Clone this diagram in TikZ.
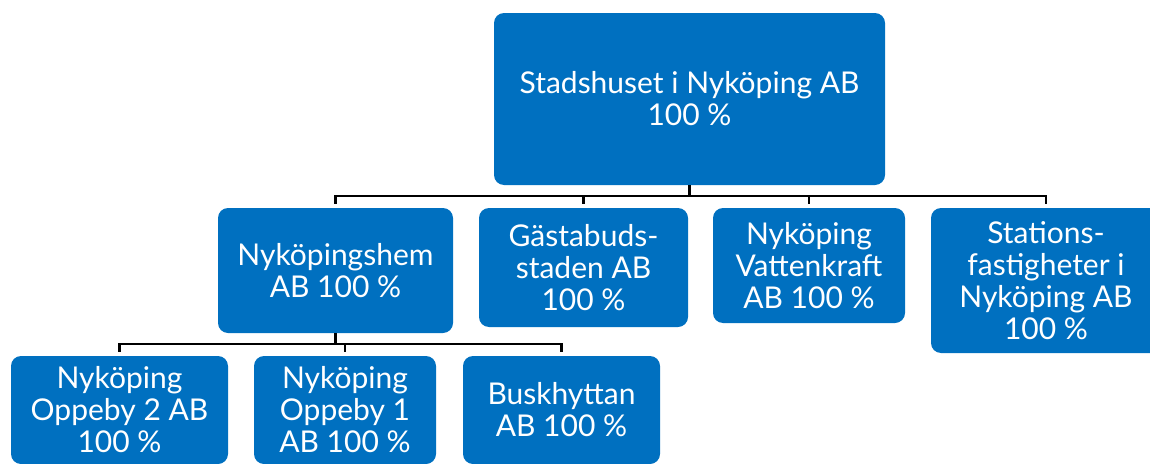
\documentclass[tikz,border=0pt]{standalone}
\usepackage{fontspec}
\setmainfont{Lato}
\definecolor{boxblue}{HTML}{0070C0}

\begin{document}
\begin{tikzpicture}[x=0.75pt,y=-0.75pt,
    every node/.style={rectangle,rounded corners=7.5pt,fill=boxblue,text=white,align=center,inner sep=0pt,font=\fontsize{22.5}{24}\selectfont},
    wh/.style 2 args={minimum width=#1*0.75pt,minimum height=#2*0.75pt},
    bus/.style={line width=1.6pt,shorten >=3pt}]
    \useasboundingbox (0,0) rectangle (1150,464);

    \node[wh={391}{172}] (S) at (689.5,99) {Stadshuset i Nyköping AB\\100 \%};
    \node[wh={235}{125}] (H) at (335.5,270.5) {Nyköpingshem\\AB 100 \%};
    \node[wh={209}{119}] (G) at (583.5,267.5) {Gästabuds-\\staden AB\\100 \%};
    \node[wh={192}{115}] (V) at (809,265.5) {Nyköping\\Vattenkraft\\AB 100 \%};
    \node[wh={230}{145}] (F) at (1046,280.5) {Stations-\\fastigheter i\\Nyköping AB\\100 \%};
    \node[wh={217}{108}] (O2) at (119.5,410) {Nyköping\\Oppeby 2 AB\\100 \%};
    \node[wh={182}{108}] (O1) at (345,410) {Nyköping\\Oppeby 1\\AB 100 \%};
    \node[wh={197}{108}] (B) at (561.5,410) {Buskhyttan\\AB 100 \%};

    \draw[bus] (S.south) -- ++(0,11) -| (H.north);
    \draw[bus] (S.south) -- ++(0,11) -| (G.north);
    \draw[bus] (S.south) -- ++(0,11) -| (V.north);
    \draw[bus] (S.south) -- ++(0,11) -| (F.north);
    \draw[bus] (H.south) -- ++(0,11) -| (O2.north);
    \draw[bus] (H.south) -- ++(0,11) -| (O1.north);
    \draw[bus] (H.south) -- ++(0,11) -| (B.north);
\end{tikzpicture}
\end{document}
